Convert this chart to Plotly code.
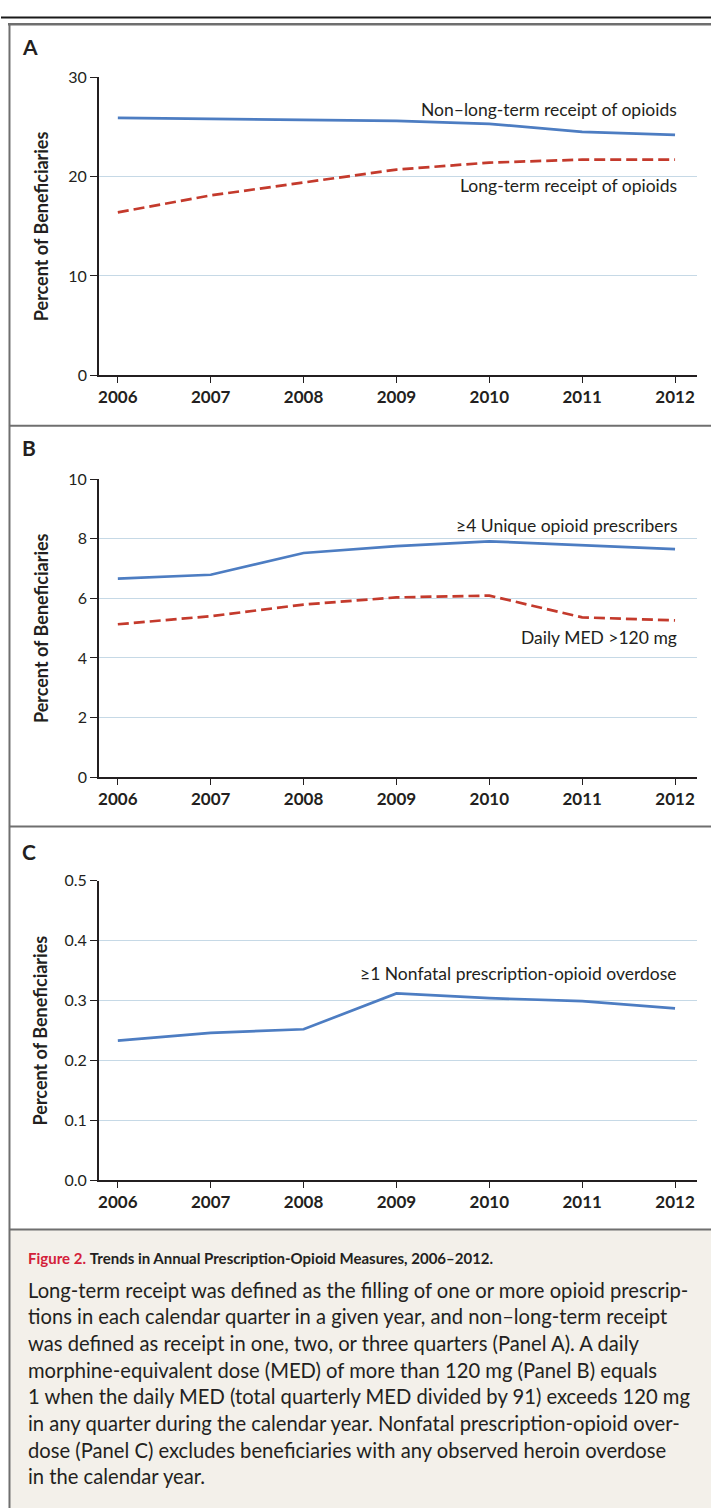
import plotly.graph_objects as go

W, H = 711, 1508
FONT = "Lato"

years = [2006, 2007, 2008, 2009, 2010, 2011, 2012]

# Panel A
non_long_term = [25.9, 25.8, 25.7, 25.6, 25.3, 24.5, 24.2]
long_term = [16.4, 18.1, 19.4, 20.7, 21.4, 21.7, 21.7]
# Panel B
unique_prescribers = [6.66, 6.79, 7.52, 7.75, 7.91, 7.78, 7.65]
daily_med = [5.13, 5.40, 5.79, 6.03, 6.09, 5.36, 5.26]
# Panel C
nonfatal_overdose = [0.233, 0.246, 0.252, 0.312, 0.304, 0.299, 0.287]

yticks_A = [0, 10, 20, 30]
yticks_B = [0, 2, 4, 6, 8, 10]
yticks_C = [0.0, 0.1, 0.2, 0.3, 0.4, 0.5]
ytick_text_C = ["0.0", "0.1", "0.2", "0.3", "0.4", "0.5"]

caption_title_red = "Figure 2."
caption_title = "Trends in Annual Prescription-Opioid Measures, 2006\u20132012."
caption_lines = [
    "Long-term receipt was defined as the filling of one or more opioid prescrip-",
    "tions in each calendar quarter in a given year, and non\u2013long-term receipt",
    "was defined as receipt in one, two, or three quarters (Panel A). A daily",
    "morphine-equivalent dose (MED) of more than 120 mg (Panel B) equals",
    "1 when the daily MED (total quarterly MED divided by 91) exceeds 120 mg",
    "in any quarter during the calendar year. Nonfatal prescription-opioid over-",
    "dose (Panel C) excludes beneficiaries with any observed heroin overdose",
    "in the calendar year.",
]

BLUE = "#4d7dc2"
RED = "#c43a2c"
GRID = "#c6d9e6"
TXT = "#231f20"


def px_x(v):
    return v / W


def px_y(v):
    return 1 - v / H


fig = go.Figure()

panels = [
    dict(top=68, bottom=370, rng=[0, 30], ticks=yticks_A, text=[str(t) for t in yticks_A]),
    dict(top=475, bottom=777, rng=[0, 10], ticks=yticks_B, text=[str(t) for t in yticks_B]),
    dict(top=882, bottom=1185, rng=[0, 0.5], ticks=yticks_C, text=ytick_text_C),
]
x_left, x_right = 98, 697
px_per_year = (675 - 117) / 6
xr = [2006 - (117 - x_left) / px_per_year, 2012 + (x_right - 675) / px_per_year]

layout_axes = {}
for i, p in enumerate(panels, start=1):
    xa = "xaxis" if i == 1 else f"xaxis{i}"
    ya = "yaxis" if i == 1 else f"yaxis{i}"
    layout_axes[xa] = dict(
        domain=[px_x(x_left), px_x(x_right)],
        range=xr,
        anchor="y" if i == 1 else f"y{i}",
        tickvals=years,
        ticktext=[f"<b>{y}</b>" for y in years],
        ticks="outside",
        ticklen=6,
        tickwidth=1,
        tickcolor=TXT,
        showline=True,
        linecolor=TXT,
        linewidth=1.5,
        showgrid=False,
        zeroline=False,
        tickfont=dict(family=FONT, size=17, color=TXT),
        fixedrange=True,
    )
    layout_axes[ya] = dict(
        domain=[px_y(p["bottom"]), px_y(p["top"])],
        range=p["rng"],
        anchor="x" if i == 1 else f"x{i}",
        tickvals=p["ticks"],
        ticktext=p["text"],
        ticks="outside",
        ticklen=7,
        tickwidth=1,
        tickcolor=TXT,
        showline=True,
        linecolor=TXT,
        linewidth=1.5,
        showgrid=True,
        gridcolor=GRID,
        gridwidth=1.2,
        zeroline=False,
        tickfont=dict(family=FONT, size=16, color=TXT),
        fixedrange=True,
    )

fig.update_layout(**layout_axes)

line_blue = dict(color=BLUE, width=2.7)
line_red = dict(color=RED, width=2.7, dash="11px,5px")

fig.add_trace(go.Scatter(x=years, y=non_long_term, mode="lines", line=line_blue, xaxis="x", yaxis="y"))
fig.add_trace(go.Scatter(x=years, y=long_term, mode="lines", line=line_red, xaxis="x", yaxis="y"))
fig.add_trace(go.Scatter(x=years, y=unique_prescribers, mode="lines", line=line_blue, xaxis="x2", yaxis="y2"))
fig.add_trace(go.Scatter(x=years, y=daily_med, mode="lines", line=line_red, xaxis="x2", yaxis="y2"))
fig.add_trace(go.Scatter(x=years, y=nonfatal_overdose, mode="lines", line=line_blue, xaxis="x3", yaxis="y3"))

shapes = []
FRAME = "#6f6f6f"
shapes.append(dict(type="rect", xref="paper", yref="paper", x0=px_x(9), x1=px_x(W + 5), y0=-0.02, y1=px_y(1235),
                   fillcolor="#f3f0ea", line=dict(width=0), layer="below"))
shapes.append(dict(type="line", xref="paper", yref="paper", x0=0, x1=1, y0=px_y(7.5), y1=px_y(7.5),
                   line=dict(color="#1a1a1a", width=2)))
shapes.append(dict(type="line", xref="paper", yref="paper", x0=px_x(7), x1=1.01, y0=px_y(14.5), y1=px_y(14.5),
                   line=dict(color=FRAME, width=2.5)))
shapes.append(dict(type="line", xref="paper", yref="paper", x0=px_x(8.5), x1=px_x(8.5), y0=-0.02, y1=px_y(14),
                   line=dict(color=FRAME, width=2)))
for yy in [421, 827, 1235]:
    shapes.append(dict(type="line", xref="paper", yref="paper", x0=px_x(8), x1=1.01, y0=px_y(yy), y1=px_y(yy),
                       line=dict(color=FRAME, width=2)))

annotations = []
for letter, yy in [("A", 37), ("B", 443), ("C", 852)]:
    annotations.append(dict(text=f"<b>{letter}</b>", xref="paper", yref="paper", x=px_x(19), y=px_y(yy),
                            xanchor="left", yanchor="middle", showarrow=False,
                            font=dict(family=FONT, size=21, color=TXT)))
for p in panels:
    cy = (p["top"] + p["bottom"]) / 2
    annotations.append(dict(text="<b>Percent of Beneficiaries</b>", xref="paper", yref="paper", x=px_x(40), y=px_y(cy),
                            xanchor="center", yanchor="middle", textangle=-90, showarrow=False,
                            font=dict(family=FONT, size=18, color=TXT)))

lab_font = dict(family=FONT, size=17.5, color=TXT)
x_lab = 2012 + (679 - 675) / px_per_year
annotations += [
    dict(text="Non\u2013long-term receipt of opioids", x=x_lab, y=26.7, xref="x", yref="y",
         xanchor="right", yanchor="middle", showarrow=False, font=lab_font),
    dict(text="Long-term receipt of opioids", x=x_lab, y=19.07, xref="x", yref="y",
         xanchor="right", yanchor="middle", showarrow=False, font=lab_font),
    dict(text="\u22654 Unique opioid prescribers", x=x_lab, y=8.44, xref="x2", yref="y2",
         xanchor="right", yanchor="middle", showarrow=False, font=lab_font),
    dict(text="Daily MED >120 mg", x=x_lab, y=4.70, xref="x2", yref="y2",
         xanchor="right", yanchor="middle", showarrow=False, font=lab_font),
    dict(text="\u22651 Nonfatal prescription-opioid overdose", x=x_lab, y=0.345, xref="x3", yref="y3",
         xanchor="right", yanchor="middle", showarrow=False, font=lab_font),
]

annotations.append(dict(
    text=f"<span style='color:#d3213a'><b>{caption_title_red}</b></span> <b>{caption_title}</b>",
    xref="paper", yref="paper", x=px_x(25), y=px_y(1264), xanchor="left", yanchor="middle",
    showarrow=False, font=dict(family=FONT, size=15, color=TXT)))
for k, line in enumerate(caption_lines):
    annotations.append(dict(text=line, xref="paper", yref="paper", x=px_x(25), y=px_y(1296 + 27 * k),
                            xanchor="left", yanchor="middle", showarrow=False,
                            font=dict(family=FONT, size=20.2, color=TXT)))

fig.update_layout(
    width=W, height=H,
    margin=dict(l=0, r=0, t=0, b=0),
    paper_bgcolor="white",
    plot_bgcolor="rgba(0,0,0,0)",
    showlegend=False,
    shapes=shapes,
    annotations=annotations,
    font=dict(family=FONT, color=TXT),
)

fig.write_html("out.html", config={"displayModeBar": False})
